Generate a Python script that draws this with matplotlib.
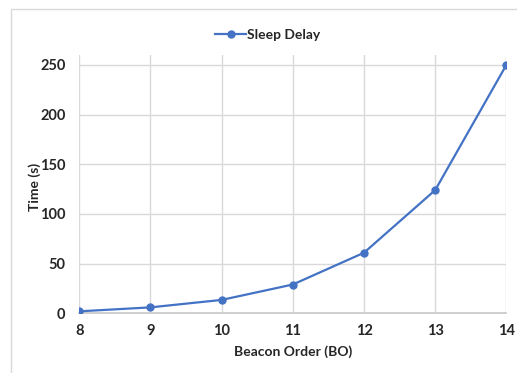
import matplotlib
matplotlib.use("Agg")
import matplotlib.pyplot as plt
from matplotlib.patches import Rectangle

plt.rcParams['font.family'] = ['Lato', 'DejaVu Sans']

beacon_order = [8, 9, 10, 11, 12, 13, 14]
sleep_delay = [2, 6, 13.5, 29, 61, 124, 250]
y_ticks = [0, 50, 100, 150, 200, 250]

fig = plt.figure(figsize=(5.17, 3.73), dpi=100)
ax = fig.add_axes([0.1534, 0.16, 0.826, 0.6925])

# chart area border
fig.patches.append(Rectangle((11 / 517, -0.1), 1.2, 1 - 9 / 373 + 0.1,
                             transform=fig.transFigure, fill=False,
                             edgecolor='#d9d9d9', linewidth=1.0))

ax.plot(beacon_order, sleep_delay, color='#4472C4', linewidth=1.6,
        marker='o', markersize=5, label='Sleep Delay', zorder=3)

ax.set_xlim(8, 14)
ax.set_ylim(0, 260)
ax.set_xticks(beacon_order)
ax.set_yticks(y_ticks)
ax.grid(True, color='#d9d9d9', linewidth=1.0)
ax.set_axisbelow(True)

for side in ['top', 'right', 'left']:
    ax.spines[side].set_visible(False)
ax.spines['bottom'].set_color('#c8c8c8')
ax.spines['bottom'].set_linewidth(1.2)
ax.tick_params(length=0, colors='#262626', labelsize=10.5)
ax.tick_params(axis='y', pad=10)
ax.tick_params(axis='x', pad=8)
for lbl in ax.get_xticklabels() + ax.get_yticklabels():
    lbl.set_fontweight('bold')

ax.set_xlabel('Beacon Order (BO)', fontsize=10, fontweight='bold',
              color='#262626', labelpad=5)
ax.set_ylabel('Time (s)', fontsize=10, fontweight='bold', color='#262626')
ax.yaxis.set_label_coords(-0.09, 0.49)

leg = fig.legend(loc='center', bbox_to_anchor=(268 / 517, 1 - 35 / 373),
                 frameon=False, prop={'weight': 'bold', 'size': 10},
                 handlelength=2.2, handletextpad=0.1)
for t in leg.get_texts():
    t.set_color('#262626')

fig.savefig('out.png', dpi=100)
